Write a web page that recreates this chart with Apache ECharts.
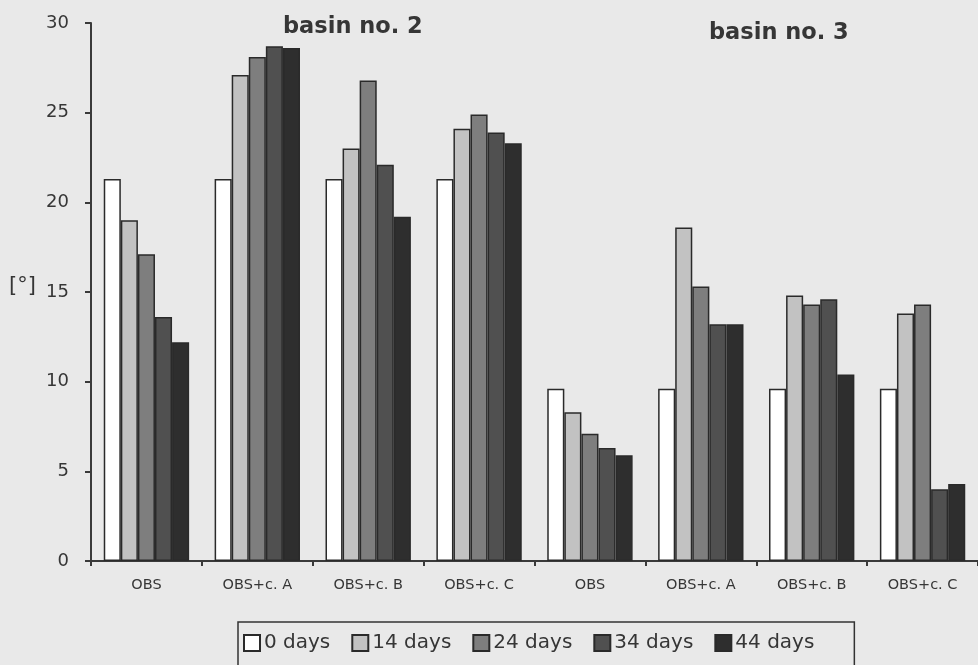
<!DOCTYPE html>
<html>
<head>
<meta charset="utf-8">
<script src="https://cdn.jsdelivr.net/npm/echarts@6/dist/echarts.min.js"></script>
<style>
  html, body { margin: 0; padding: 0; background: #e9e9e9; }
  #chart { width: 978px; height: 665px; }
</style>
</head>
<body>
<div id="chart"></div>
<script>
const categories = ['OBS', 'OBS+c. A', 'OBS+c. B', 'OBS+c. C', 'OBS', 'OBS+c. A', 'OBS+c. B', 'OBS+c. C'];
const seriesNames = ['0 days', '14 days', '24 days', '34 days', '44 days'];
const days0  = [21.3, 21.3, 21.3, 21.3, 9.6, 9.6, 9.6, 9.6];
const days14 = [19.0, 27.1, 23.0, 24.1, 8.3, 18.6, 14.8, 13.8];
const days24 = [17.1, 28.1, 26.8, 24.9, 7.1, 15.3, 14.3, 14.3];
const days34 = [13.6, 28.7, 22.1, 23.9, 6.3, 13.2, 14.6, 4.0];
const days44 = [12.2, 28.6, 19.2, 23.3, 5.9, 13.2, 10.4, 4.3];
const yTicks = { min: 0, max: 30, interval: 5 };
const titles = ['basin no. 2', 'basin no. 3'];
const yName = '[°]';

const allData = [days0, days14, days24, days34, days44];
const colors = ['#ffffff', '#c2c2c2', '#7e7e7e', '#505050', '#2e2e2e'];
const FONT = 'DejaVu Sans';
const TXT = '#363636';

const chart = echarts.init(document.getElementById('chart'), null, { renderer: 'canvas' });
chart.setOption({
  backgroundColor: '#e9e9e9',
  animation: false,
  textStyle: { fontFamily: FONT, color: TXT },
  title: [
    { text: titles[0], left: 278, top: 11, textStyle: { fontFamily: FONT, fontWeight: 'bold', fontSize: 22.5, color: TXT } },
    { text: titles[1], left: 704, top: 17, textStyle: { fontFamily: FONT, fontWeight: 'bold', fontSize: 22.5, color: TXT } }
  ],
  graphic: [
    { type: 'text', left: 9, top: 276, style: { text: yName, fontFamily: FONT, fontSize: 21, fill: TXT } }
  ],
  legend: {
    data: seriesNames,
    icon: 'rect',
    left: 238,
    top: 622,
    orient: 'horizontal',
    padding: [11, 40, 30, 5],
    itemWidth: 16,
    itemHeight: 16,
    itemGap: 21,
    borderColor: '#333',
    borderWidth: 1.5,
    backgroundColor: 'transparent',
    textStyle: { fontFamily: FONT, fontSize: 20, color: TXT, padding: [0, 0, 0, -1] }
  },
  grid: { left: 91, top: 23, width: 892, bottom: 104, containLabel: false },
  xAxis: {
    type: 'category',
    data: categories,
    axisLine: { lineStyle: { color: '#3a3a3a', width: 2 } },
    axisTick: { show: true, length: 5, lineStyle: { color: '#3a3a3a', width: 2 } },
    axisLabel: { fontFamily: FONT, fontSize: 14.5, color: TXT, margin: 17, interval: 0 }
  },
  yAxis: {
    type: 'value',
    min: yTicks.min, max: yTicks.max, interval: yTicks.interval,
    splitLine: { show: false },
    axisLine: { show: true, lineStyle: { color: '#3a3a3a', width: 2 } },
    axisTick: { show: true, length: 6, lineStyle: { color: '#3a3a3a', width: 2 } },
    axisLabel: { fontFamily: FONT, fontSize: 18, color: TXT, margin: 22 }
  },
  series: seriesNames.map((name, i) => ({
    name: name,
    type: 'bar',
    data: allData[i],
    barGap: '0%',
    barCategoryGap: '23%',
    itemStyle: { color: colors[i], borderColor: '#2a2a2a', borderWidth: 1.5 }
  }))
});
</script>
</body>
</html>
